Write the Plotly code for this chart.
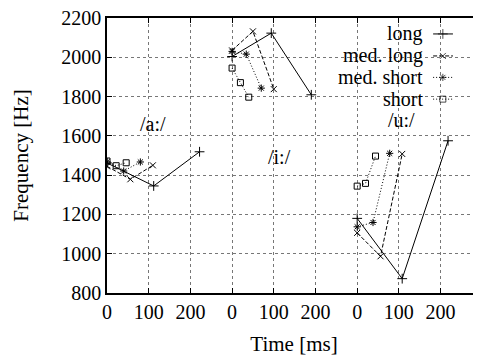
import plotly.graph_objects as go

# ---- data (time in ms within each vowel panel, frequency in Hz) ----
vowels = ["/a:/", "/i:/", "/u:/"]
vowel_offsets = [0, 300, 600]          # ms offset of each vowel block on the shared axis
series_names = ["long", "med. long", "med. short", "short"]

a_long_t = [0, 112, 222];   a_long_f = [1462, 1345, 1519]
a_mlong_t = [0, 56, 110];   a_mlong_f = [1445, 1379, 1450]
a_mshort_t = [0, 40, 80];   a_mshort_f = [1468, 1421, 1467]
a_short_t = [0, 22, 46];    a_short_f = [1472, 1448, 1463]

i_long_t = [0, 94, 190];    i_long_f = [2004, 2123, 1809]
i_mlong_t = [0, 50, 100];   i_mlong_f = [2035, 2132, 1838]
i_mshort_t = [0, 34, 70];   i_mshort_f = [2030, 2016, 1843]
i_short_t = [0, 20, 40];    i_short_f = [1945, 1871, 1797]

u_long_t = [0, 108, 218];   u_long_f = [1180, 873, 1575]
u_mlong_t = [0, 56, 108];   u_mlong_f = [1106, 987, 1508]
u_mshort_t = [0, 38, 78];   u_mshort_f = [1137, 1159, 1511]
u_short_t = [0, 20, 44];    u_short_f = [1344, 1358, 1497]

label_t = [110, 114, 107]
label_f = [1660, 1492, 1682]

x_tickvals = [0, 100, 200, 300, 400, 500, 600, 700, 800]
x_ticktext = ["0", "100", "200", "0", "100", "200", "0", "100", "200"]
y_tickvals = [800, 1000, 1200, 1400, 1600, 1800, 2000, 2200]

data = {
    "long": [(a_long_t, a_long_f), (i_long_t, i_long_f), (u_long_t, u_long_f)],
    "med. long": [(a_mlong_t, a_mlong_f), (i_mlong_t, i_mlong_f), (u_mlong_t, u_mlong_f)],
    "med. short": [(a_mshort_t, a_mshort_f), (i_mshort_t, i_mshort_f), (u_mshort_t, u_mshort_f)],
    "short": [(a_short_t, a_short_f), (i_short_t, i_short_f), (u_short_t, u_short_f)],
}

styles = {
    "long": dict(dash="solid", symbol="cross-thin-open", size=7),
    "med. long": dict(dash="4px,2px", symbol="x-thin-open", size=6),
    "med. short": dict(dash="1px,2px", symbol="asterisk-open", size=6),
    "short": dict(dash="1px,2px", symbol="square-open", size=6),
}

FONT = "Times New Roman, Liberation Serif, DejaVu Serif, serif"
fig = go.Figure()

for name in series_names:
    st = styles[name]
    for (t, f), off in zip(data[name], vowel_offsets):
        fig.add_trace(go.Scatter(
            x=[v + off for v in t], y=f, mode="lines+markers",
            line=dict(color="black", width=1, dash=st["dash"]),
            marker=dict(symbol=st["symbol"], size=st["size"], color="black",
                        line=dict(color="black", width=1)),
            showlegend=False, hoverinfo="skip"))

# vowel labels
for v, t, f, off in zip(vowels, label_t, label_f, vowel_offsets):
    fig.add_annotation(x=t + off, y=f, text=v, showarrow=False, borderpad=0,
                       font=dict(family=FONT, size=20, color="black"))

# custom gnuplot-style key (text right, sample to the right)
key_rows = [0.942, 0.862, 0.784, 0.705]
for name, ry in zip(series_names, key_rows):
    st = styles[name]
    fig.add_trace(go.Scatter(
        x=[0.872, 0.898, 0.925], y=[ry, ry, ry], xaxis="x2", yaxis="y2",
        mode="lines+markers",
        line=dict(color="black", width=1, dash=st["dash"]),
        marker=dict(symbol=st["symbol"], size=[0, st["size"], 0], color="black",
                    line=dict(color="black", width=1)),
        showlegend=False, hoverinfo="skip"))
    fig.add_annotation(x=0.848, y=ry, xref="x2", yref="y2", text=name,
                       showarrow=False, xanchor="right", borderpad=0,
                       font=dict(family=FONT, size=20, color="black"))

fig.add_shape(type="rect", xref="paper", yref="paper", x0=0.497, x1=0.965,
              y0=0.665, y1=0.996, fillcolor="white", line=dict(width=0),
              layer="between")

axis_common = dict(showline=True, linecolor="black", linewidth=1.5, mirror="ticks",
                   ticks="inside", ticklen=5, tickcolor="black", tickwidth=1,
                   showgrid=True, gridcolor="#777", griddash="dot", gridwidth=1,
                   zeroline=False, automargin=False, ticklabeloverflow="allow",
                   tickfont=dict(family=FONT, size=20, color="black"))

# page body has an 8px default margin: figure is 8px smaller, margins reduced by 8
fig.update_layout(
    width=473, height=349,
    margin=dict(l=99, r=0, t=10, b=64, autoexpand=False),
    paper_bgcolor="white", plot_bgcolor="white",
    font=dict(family=FONT, size=20, color="black"),
    xaxis=dict(range=[0, 897], tickmode="array", tickvals=x_tickvals,
               ticktext=x_ticktext,
               title=dict(text="Time [ms]", font=dict(family=FONT, size=21), standoff=15),
               **axis_common),
    yaxis=dict(range=[800, 2200], tickmode="array", tickvals=y_tickvals,
               title=dict(text="Frequency [Hz]", font=dict(family=FONT, size=21), standoff=27),
               **axis_common),
    xaxis2=dict(range=[0, 1], overlaying="x", visible=False, fixedrange=True),
    yaxis2=dict(range=[0, 1], overlaying="y", visible=False, fixedrange=True),
    showlegend=False,
)

fig.write_html("out.html")
